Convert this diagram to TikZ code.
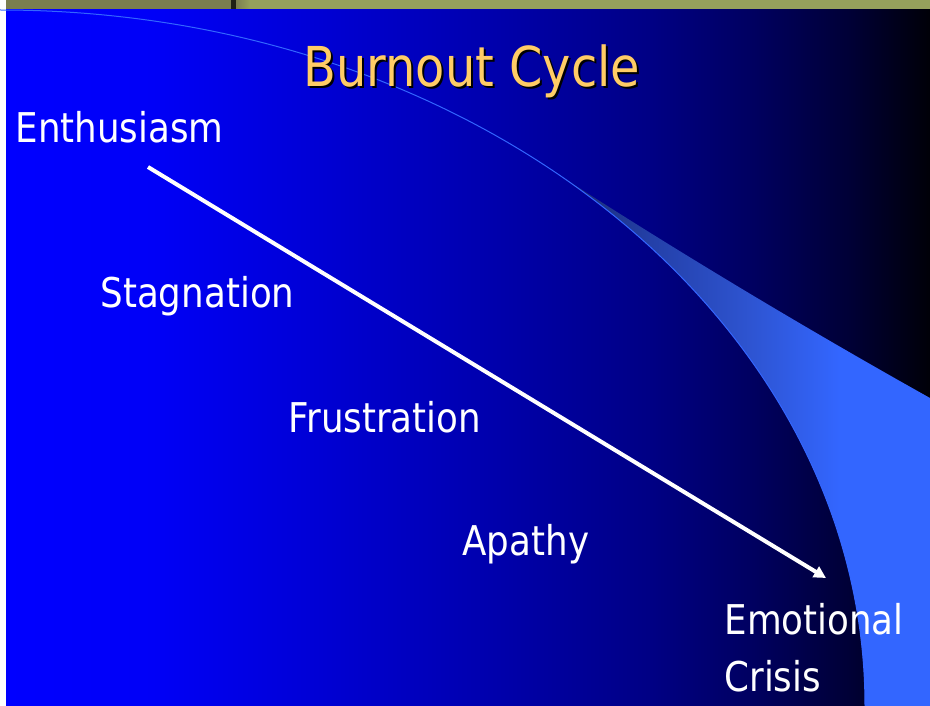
\documentclass[tikz,border=0pt]{standalone}
\usepackage{fontspec}
\setmainfont{DejaVu Sans}[FakeStretch=0.87]
\usetikzlibrary{arrows.meta}
\definecolor{bandolive}{RGB}{149,160,92}
\definecolor{banddark}{RGB}{122,126,79}
\definecolor{titlegold}{RGB}{255,204,102}
\definecolor{swoosh}{RGB}{51,102,255}
% fond bleu vers noir
\pgfdeclarehorizontalshading{fondbleu}{100bp}{rgb(0bp)=(0,0,1); rgb(25bp)=(0,0,1);
  rgb(32.8bp)=(0,0,0.97); rgb(40.9bp)=(0,0,0.85); rgb(51.7bp)=(0,0,0.67);
  rgb(59.8bp)=(0,0,0.52); rgb(65.3bp)=(0,0,0.38); rgb(70.7bp)=(0,0,0.21);
  rgb(75bp)=(0,0,0.03); rgb(100bp)=(0,0,0.03)}
% bande claire
\pgfdeclarehorizontalshading{bandeclaire}{100bp}{rgb(0bp)=(0.10,0.16,0.43); rgb(25bp)=(0.10,0.16,0.43);
  rgb(36.9bp)=(0.14,0.25,0.66); rgb(50.5bp)=(0.18,0.33,0.82);
  rgb(62.7bp)=(0.2,0.4,1); rgb(100bp)=(0.2,0.4,1)}
\newcommand{\ombre}[1]{\makebox[0pt][l]{\raisebox{-2pt}[0pt][0pt]{\hspace{2pt}\textcolor{black}{#1}}}#1}
\begin{document}
\begin{tikzpicture}[x=1pt,y=-1pt,
    stage/.style={anchor=base west,inner sep=0pt,outer sep=0pt,text=white,
      font=\fontsize{41}{57}\selectfont},
    heading/.style={anchor=base west,inner sep=0pt,outer sep=0pt,text=titlegold,
      font=\fontsize{55}{60}\selectfont}]
	\useasboundingbox (0,0) rectangle (930,706);
	
	% Fond
	\fill[white] (0,0) rectangle (930,706);
	\shade[shading=fondbleu] (6,9) rectangle (930,706);
	
	% Bande du haut
	\fill[bandolive] (6,0) rectangle (930,9);
	\fill[banddark] (6,0) rectangle (231,9);
	\fill[black!75!banddark] (231,0) rectangle (236,9);
	\shade[left color=banddark,right color=bandolive] (236,0) rectangle (250,9);
	
	% Courbe
	\shade[shading=bandeclaire] (562.9,177.5) .. controls (747.9,305.2) and (865,494.6) .. (865,706)
		-- (930,706) -- (930,398) .. controls (805,328) and (680,253) .. (562.9,177.5) -- cycle;
	\draw[swoosh,line width=1pt] (0,10) .. controls (215,10) and (411.6,73.1) .. (562.9,177.5)
		.. controls (747.9,305.2) and (865,494.6) .. (865,706);
	
	% Titre
	\node[heading] (title) at (303.5,87) {\ombre{Burnout Cycle}};
	
	% Etapes
	\node[stage] (enthusiasm) at (15.5,143) {Enthusiasm};
	\node[stage] (stagnation) at (100.5,307.5) {Stagnation};
	\node[stage] (frustration) at (288.5,432.5) {Frustration};
	\node[stage] (apathy) at (462.5,555.5) {Apathy};
	\node[stage,align=left] (crisis) at (724.5,691.7) {Emotional\\Crisis};
	
	% Fleche
	\coordinate (start) at (148,167);
	\coordinate (finish) at (826,578);
	\draw[white,line width=4pt,-{Triangle[length=12pt,width=12pt]}] (start) -- (finish);
\end{tikzpicture}
\end{document}
